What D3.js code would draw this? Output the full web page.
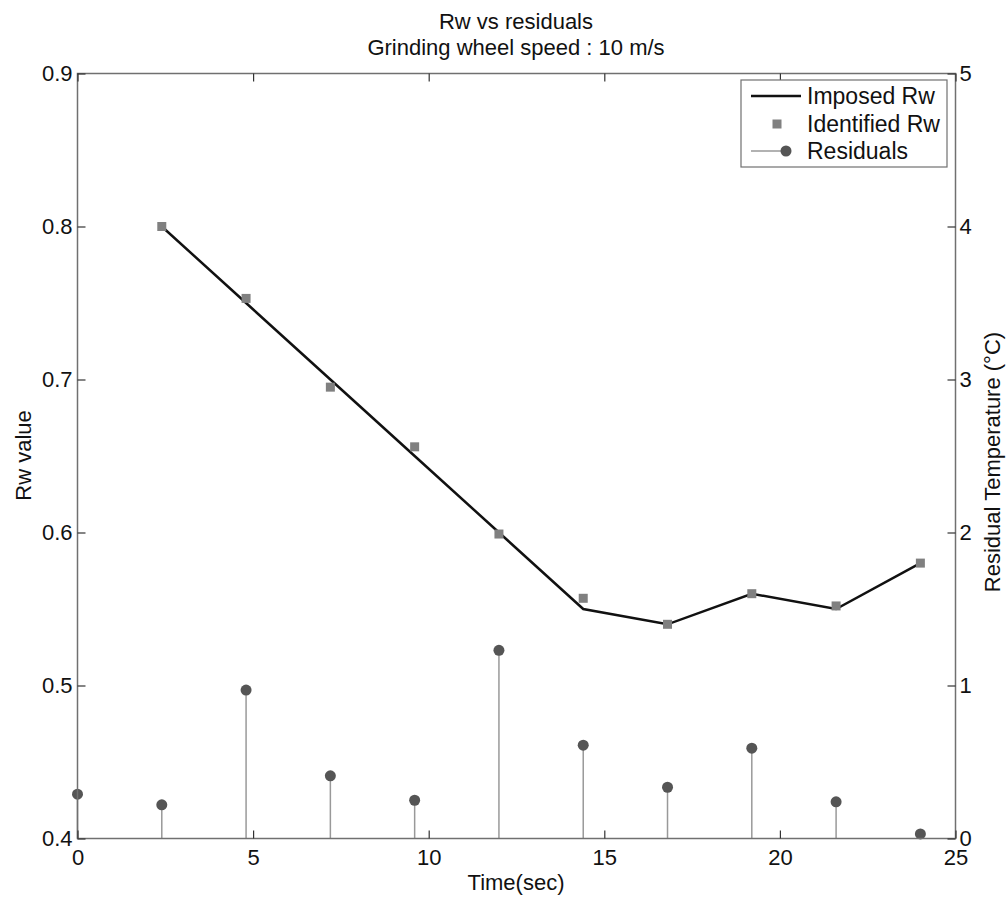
<!DOCTYPE html>
<html><head><meta charset="utf-8">
<script src="https://cdn.jsdelivr.net/npm/d3@7"></script>
<style>body{margin:0;background:#fff}</style>
</head><body>
<svg id="c" width="1007" height="899"></svg>
<script>
const times = [2.4, 4.8, 7.2, 9.6, 12, 14.4, 16.8, 19.2, 21.6, 24];
const imposedRw = [0.80, 0.75, 0.70, 0.65, 0.60, 0.55, 0.54, 0.56, 0.55, 0.58];
const identifiedRw = [0.800, 0.753, 0.695, 0.656, 0.599, 0.557, 0.540, 0.560, 0.552, 0.580];
const residualTimes = [0, 2.4, 4.8, 7.2, 9.6, 12, 14.4, 16.8, 19.2, 21.6, 24];
const residuals = [0.29, 0.22, 0.97, 0.41, 0.25, 1.23, 0.61, 0.335, 0.59, 0.24, 0.03];
const xTicks = [0, 5, 10, 15, 20, 25];
const yLeftTicks = [0.4, 0.5, 0.6, 0.7, 0.8, 0.9];
const yRightTicks = [0, 1, 2, 3, 4, 5];

(function () {
const L = 77.5, R = 955.5, T = 73.5, B = 838.5;
const svg = d3.select("#c");
const font = "'Liberation Sans', Arial, sans-serif";
const fs = 22;
const x = d3.scaleLinear().domain([0, 25]).range([L, R]);
const yL = d3.scaleLinear().domain([0.4, 0.9]).range([B, T]);
const yR = d3.scaleLinear().domain([0, 5]).range([B, T]);

// residual stems
const g = svg.append("g");
g.selectAll("line.stem").data(residualTimes).join("line")
  .attr("x1", (d) => x(d)).attr("x2", (d) => x(d))
  .attr("y1", yR(0)).attr("y2", (d, i) => yR(residuals[i]))
  .attr("stroke", "#999").attr("stroke-width", 1.5);
g.selectAll("circle.res").data(residualTimes).join("circle")
  .attr("cx", (d) => x(d)).attr("cy", (d, i) => yR(residuals[i]))
  .attr("r", 5.5).attr("fill", "#555");

// imposed line
const line = d3.line().x((d) => x(d[0])).y((d) => yL(d[1]));
g.append("path").datum(times.map((t, i) => [t, imposedRw[i]]))
  .attr("d", line).attr("fill", "none").attr("stroke", "#111").attr("stroke-width", 2.5);
// identified squares
g.selectAll("rect.id").data(times).join("rect")
  .attr("x", (d) => x(d) - 4.5).attr("y", (d, i) => yL(identifiedRw[i]) - 4.5)
  .attr("width", 9).attr("height", 9).attr("fill", "#808080");

// axes box and ticks
const axc = "#707070";
svg.append("rect").attr("x", L).attr("y", T).attr("width", R - L).attr("height", B - T)
  .attr("fill", "none").attr("stroke", axc).attr("stroke-width", 1.5);
const axB = svg.append("g").attr("transform", `translate(0,${B})`)
  .call(d3.axisBottom(x).tickValues(xTicks).tickSizeInner(-8).tickSizeOuter(0).tickFormat(d3.format("d")));
const axT = svg.append("g").attr("transform", `translate(0,${T})`)
  .call(d3.axisTop(x).tickValues(xTicks).tickSizeInner(-8).tickSizeOuter(0).tickFormat(""));
const axL = svg.append("g").attr("transform", `translate(${L},0)`)
  .call(d3.axisLeft(yL).tickValues(yLeftTicks).tickSizeInner(-8).tickSizeOuter(0).tickFormat(d3.format(".1f")));
const axR = svg.append("g").attr("transform", `translate(${R},0)`)
  .call(d3.axisRight(yR).tickValues(yRightTicks).tickSizeInner(-8).tickSizeOuter(0).tickFormat(d3.format("d")));
[axB, axT, axL, axR].forEach((a) => {
  a.select(".domain").remove();
  a.selectAll(".tick line").attr("stroke", "#333").attr("stroke-width", 1.2);
  a.selectAll("text").attr("font-family", font).attr("font-size", fs).attr("fill", "#111");
});
axB.selectAll("text").attr("y", 26).attr("dy", 0);
axL.selectAll("text").attr("x", -5);
axR.selectAll("text").attr("x", 4);

// titles
const txt = (t, xx, yy, size, rot) => {
  const e = svg.append("text").text(t).attr("font-family", font).attr("font-size", size)
    .attr("fill", "#111").attr("text-anchor", "middle");
  if (rot) e.attr("transform", `translate(${xx},${yy}) rotate(${rot})`);
  else e.attr("x", xx).attr("y", yy);
  return e;
};
txt("Rw vs residuals", 516, 29, fs);
txt("Grinding wheel speed : 10 m/s", 516, 55, fs);
txt("Time(sec)", 516, 890, fs);
txt("Rw value", 31, 455.5, fs, -90);
txt("Residual Temperature (°C)", 1000, 462, fs, -90);

// legend
const lg = svg.append("g");
lg.append("rect").attr("x", 741).attr("y", 80).attr("width", 206).attr("height", 87)
  .attr("fill", "#fff").attr("stroke", axc).attr("stroke-width", 1.2);
lg.append("line").attr("x1", 751).attr("x2", 801).attr("y1", 96).attr("y2", 96)
  .attr("stroke", "#111").attr("stroke-width", 2.5);
lg.append("rect").attr("x", 772.5).attr("y", 119.5).attr("width", 9).attr("height", 9).attr("fill", "#808080");
lg.append("line").attr("x1", 751).attr("x2", 786).attr("y1", 151).attr("y2", 151)
  .attr("stroke", "#999").attr("stroke-width", 1.5);
lg.append("circle").attr("cx", 786).attr("cy", 151).attr("r", 5.5).attr("fill", "#555");
["Imposed Rw", "Identified Rw", "Residuals"].forEach((t, i) => {
  lg.append("text").text(t).attr("x", 807).attr("y", 104 + i * 27.5)
    .attr("font-family", font).attr("font-size", 23).attr("fill", "#111");
});
})();
</script>
</body></html>
